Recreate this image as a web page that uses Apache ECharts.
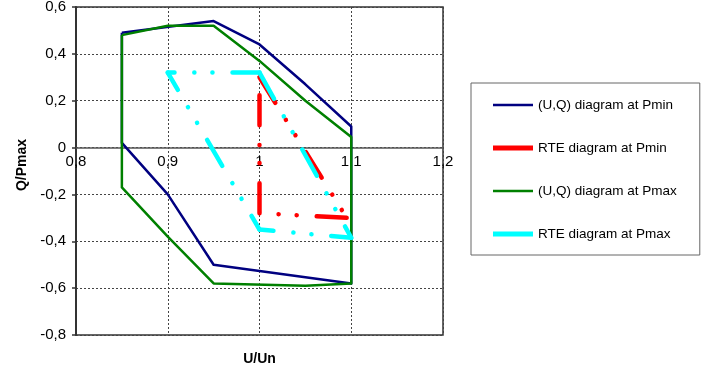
<!DOCTYPE html>
<html>
<head>
<meta charset="utf-8">
<script src="https://cdn.jsdelivr.net/npm/echarts@6/dist/echarts.min.js"></script>
<style>html,body{margin:0;padding:0;background:#fff}#c{width:716px;height:370px}</style>
</head>
<body>
<div id="c"></div>
<script>
// ---- data ----
const seriesNames = ['(U,Q) diagram at Pmin', 'RTE diagram at Pmin', '(U,Q) diagram at Pmax', 'RTE diagram at Pmax'];
const uqPminU = [0.85, 0.95, 1.0, 1.05, 1.1, 1.1, 0.95, 0.9, 0.85, 0.85];
const uqPminQ = [0.49, 0.54, 0.44, 0.27, 0.09, -0.58, -0.50, -0.20, 0.02, 0.49];
const rtePminU = [1.0, 1.095, 1.0, 1.0];
const rtePminQ = [0.30, -0.30, -0.28, 0.30];
const uqPmaxU = [0.85, 0.9, 0.95, 1.0, 1.05, 1.1, 1.1, 1.05, 0.95, 0.9, 0.85, 0.85];
const uqPmaxQ = [0.48, 0.52, 0.52, 0.37, 0.20, 0.045, -0.58, -0.59, -0.58, -0.38, -0.17, 0.48];
const rtePmaxU = [0.9, 1.0, 1.1, 1.0, 0.9];
const rtePmaxQ = [0.32, 0.32, -0.385, -0.35, 0.32];
const xTickValues = [0.8, 0.9, 1.0, 1.1, 1.2];
const yTickValues = [-0.8, -0.6, -0.4, -0.2, 0, 0.2, 0.4, 0.6];
const xTitle = 'U/Un';
const yTitle = 'Q/Pmax';

// ---- styles ----
const FONT = '"Liberation Sans", Arial, sans-serif';
const colors = ['#000080', '#FF0000', '#008000', '#00FFFF'];
const dashPattern = [30, 20, 0.1, 18, 0.1, 19.8];
// per-segment drawing direction / pattern offset (Excel restarts the pattern at each point)
const rtePminSeg = [{rev: false, off: 0}, {rev: false, off: 0}, {rev: false, off: 0}];
const rtePmaxSeg = [{rev: true, off: 3}, {rev: false, off: 0}, {rev: true, off: 16}, {rev: true, off: 10}];
const GRID = {left: 76, right: 273, top: 7, bottom: 35};
const H = 370;
// vertical pixel position of Q = 0 (x axis crosses there)
const plotH = H - GRID.top - GRID.bottom;
const yMin = yTickValues[0], yMax = yTickValues[yTickValues.length - 1];
const zeroOffset = -(plotH * (0 - yMin) / (yMax - yMin));

function pts(u, q) { return u.map((v, i) => [v, q[i]]); }
function solidSeries(name, u, q, color, w) {
  return {name, type: 'line', data: pts(u, q), symbol: 'none', silent: true,
    itemStyle: {color}, lineStyle: {color, width: w, join: 'round'}, z: 2};
}
function dashedSegments(name, u, q, color, segs) {
  const out = [];
  for (let i = 0; i < u.length - 1; i++) {
    const s = segs[i];
    let d = [[u[i], q[i]], [u[i + 1], q[i + 1]]];
    if (s.rev) d = d.reverse();
    out.push({name, type: 'line', data: d, symbol: 'none', silent: true, itemStyle: {color},
      lineStyle: {color, width: 4.5, type: dashPattern, dashOffset: s.off, cap: 'round'}, z: 3});
  }
  return out;
}
const fmt = v => String(+(+v).toFixed(2)).replace('.', ',');
const thinIcon = 'path://M0,0L40,0L40,2.5L0,2.5Z';
const thickIcon = 'path://M0,0L40,0L40,5L0,5Z';

const chart = echarts.init(document.getElementById('c'), null, {renderer: 'canvas'});
chart.setOption({
  animation: false,
  backgroundColor: '#fff',
  textStyle: {fontFamily: FONT},
  grid: Object.assign({show: true, borderColor: '#333', borderWidth: 1.5,
    containLabel: false, outerBoundsMode: 'none'}, GRID),
  xAxis: {
    type: 'value', min: xTickValues[0], max: xTickValues[xTickValues.length - 1], interval: 0.1,
    position: 'bottom', offset: zeroOffset,
    name: xTitle, nameLocation: 'middle', nameGap: 205,
    nameTextStyle: {fontFamily: FONT, fontSize: 14, fontWeight: 'bold', color: '#000'},
    axisLine: {show: true, onZero: false, lineStyle: {color: '#555', width: 1.5}},
    axisTick: {show: false},
    axisLabel: {formatter: fmt, fontFamily: FONT, fontSize: 15, color: '#000', margin: 7, showMinLabel: true, showMaxLabel: true},
    splitLine: {show: true, lineStyle: {color: '#444', width: 1, type: [2, 2]}}
  },
  yAxis: {
    type: 'value', min: yMin, max: yMax, interval: 0.2,
    name: yTitle, nameLocation: 'middle', nameGap: 46, nameRotate: 90,
    nameTextStyle: {fontFamily: FONT, fontSize: 14, fontWeight: 'bold', color: '#000', padding: [0, 0, 0, 12]},
    axisLine: {show: true, onZero: false, lineStyle: {color: '#333', width: 2}},
    axisTick: {show: true, inside: false, length: 4, lineStyle: {color: '#333', width: 1.5}},
    axisLabel: {formatter: fmt, fontFamily: FONT, fontSize: 15, color: '#000', margin: 10, showMinLabel: true, showMaxLabel: true},
    splitLine: {show: true, lineStyle: {color: '#444', width: 1, type: [2, 2]}}
  },
  legend: {
    orient: 'vertical', left: 471, top: 83,
    padding: [15, 23, 14, 22], itemWidth: 40, itemHeight: 14, itemGap: 29,
    borderColor: '#666', borderWidth: 1, backgroundColor: '#fff',
    textStyle: {fontFamily: FONT, fontSize: 13.5, color: '#000'},
    data: [
      {name: seriesNames[0], icon: thinIcon},
      {name: seriesNames[1], icon: thickIcon},
      {name: seriesNames[2], icon: thinIcon},
      {name: seriesNames[3], icon: thickIcon}
    ]
  },
  series: [
    solidSeries(seriesNames[0], uqPminU, uqPminQ, colors[0], 2.5),
    ...dashedSegments(seriesNames[1], rtePminU, rtePminQ, colors[1], rtePminSeg),
    solidSeries(seriesNames[2], uqPmaxU, uqPmaxQ, colors[2], 2.5),
    ...dashedSegments(seriesNames[3], rtePmaxU, rtePmaxQ, colors[3], rtePmaxSeg)
  ]
});
</script>
</body>
</html>
